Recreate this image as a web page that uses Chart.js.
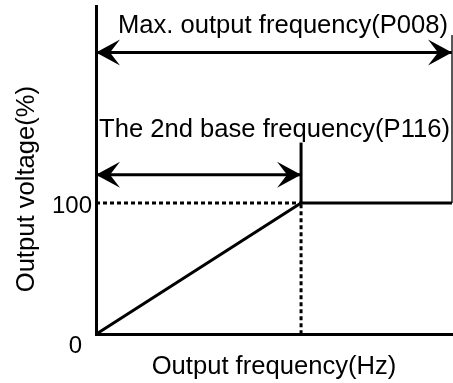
<!DOCTYPE html>
<html>
<head>
<meta charset="utf-8">
<script src="https://cdn.jsdelivr.net/npm/chart.js@4.4.1/dist/chart.umd.min.js"></script>
<style>
  html, body { margin: 0; padding: 0; background: #fff; }
  #wrap { width: 453px; height: 383px; }
</style>
</head>
<body>
<div id="wrap"><canvas id="vf-chart"></canvas></div>
<script>
// V/f curve data (frequency as % of max output frequency)
const maxFreq = 100;
const baseFreq = 57.6;
const vfFreq = [0, baseFreq, maxFreq];
const vfVolt = [0, 100, 100];

// y axis ticks that are labelled
const yTicks = [0, 100];
const yTickLabels = ['0', '100'];

// range arrows and their captions
const arrowEnds = [maxFreq, baseFreq];
const arrowLevels = [214.5, 121.5];
const arrowLabels = ['Max. output frequency(P008)', 'The 2nd base frequency(P116)'];
const captionLevels = [229.8, 150.4];

// tops of the vertical marker lines at max / base frequency
const markerTops = [228, 146];

const yTitle = 'Output voltage(%)';
const xTitle = 'Output frequency(Hz)';

const FONT = '"Liberation Sans", Arial, sans-serif';
const TEXT_SIZE = 25.6;

function pts(xs, ys) {
    return xs.map((x, i) => ({ x: x, y: ys[i] }));
}

function drawHead(ctx, tx, ty, dir) {
    ctx.beginPath();
    ctx.moveTo(tx, ty);
    ctx.lineTo(tx - dir * 24, ty - 13);
    ctx.lineTo(tx - dir * 14, ty);
    ctx.lineTo(tx - dir * 24, ty + 13);
    ctx.closePath();
    ctx.fill();
}

// draws arrowheads, captions, y title and y tick labels
const extrasPlugin = {
    id: 'vfExtras',
    afterDatasetsDraw(chart) {
        const ctx = chart.ctx;
        const ys = chart.scales.y;
        const area = chart.chartArea;
        ctx.save();
        ctx.fillStyle = '#000';

        chart.data.datasets.forEach((ds, i) => {
            if (!ds.arrow) return;
            const meta = chart.getDatasetMeta(i);
            const a = meta.data[0];
            const b = meta.data[meta.data.length - 1];
            drawHead(ctx, a.x, a.y, -1);
            drawHead(ctx, b.x, b.y, 1);
        });

        ctx.font = TEXT_SIZE + 'px ' + FONT;
        ctx.textAlign = 'right';
        ctx.textBaseline = 'alphabetic';
        ctx.fillText(arrowLabels[0], area.right - 4, ys.getPixelForValue(captionLevels[0]));
        ctx.fillText(arrowLabels[1], area.right - 2, ys.getPixelForValue(captionLevels[1]));

        // rotated y axis title, sitting a bit below the axis centre
        ctx.save();
        ctx.translate(27, (area.top + area.bottom) / 2 + 19);
        ctx.rotate(-Math.PI / 2);
        ctx.textAlign = 'center';
        ctx.textBaseline = 'middle';
        ctx.fillText(yTitle, 0, 0);
        ctx.restore();

        ctx.font = '24px ' + FONT;
        ctx.textAlign = 'right';
        ctx.textBaseline = 'middle';
        yTicks.forEach((v, i) => {
            const py = ys.getPixelForValue(v);
            if (v === 0) {
                ctx.fillText(yTickLabels[i], area.left - 14, py + 12);
            } else {
                ctx.fillText(yTickLabels[i], area.left - 4, py + 3);
            }
        });
        ctx.restore();
    }
};

const lineBase = {
    showLine: true,
    borderColor: '#000',
    backgroundColor: '#000',
    borderWidth: 3,
    pointRadius: 0,
    fill: false,
    clip: false
};

const datasets = [
    Object.assign({}, lineBase, { data: pts(vfFreq, vfVolt) }),
    Object.assign({}, lineBase, { data: pts([maxFreq, maxFreq], [100, markerTops[0]]), borderWidth: 1.5, borderColor: '#222' }),
    Object.assign({}, lineBase, { data: pts([baseFreq, baseFreq], [100, markerTops[1]]) }),
    Object.assign({}, lineBase, { data: pts([0, baseFreq], [100, 100]), borderDash: [4, 3] }),
    Object.assign({}, lineBase, { data: pts([baseFreq, baseFreq], [0, 100]), borderDash: [4, 3] })
];
arrowEnds.forEach((end, i) => {
    datasets.push(Object.assign({}, lineBase, {
        data: pts([0, end], [arrowLevels[i], arrowLevels[i]]),
        arrow: true
    }));
});

new Chart(document.getElementById('vf-chart'), {
    type: 'scatter',
    data: { datasets: datasets },
    options: {
        responsive: true,
        maintainAspectRatio: false,
        animation: false,
        layout: { padding: { top: 6, right: 1, left: 0, bottom: 0 } },
        plugins: { legend: { display: false }, tooltip: { enabled: false } },
        scales: {
            x: {
                type: 'linear',
                min: 0,
                max: maxFreq,
                grid: { display: false, drawTicks: false },
                ticks: { display: false },
                border: { display: true, color: '#000', width: 3 },
                title: {
                    display: true,
                    text: xTitle,
                    color: '#000',
                    font: { family: FONT, size: TEXT_SIZE },
                    padding: { top: 17, bottom: 1 }
                }
            },
            y: {
                type: 'linear',
                min: 0,
                max: 250,
                grid: { display: false, drawTicks: false },
                ticks: { display: false },
                border: { display: true, color: '#000', width: 3 },
                afterFit(scale) { scale.width = 96; }
            }
        }
    },
    plugins: [extrasPlugin]
});
</script>
</body>
</html>
